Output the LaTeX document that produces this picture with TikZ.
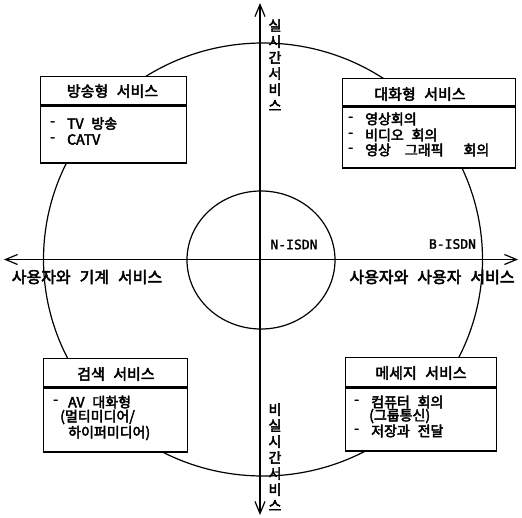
\documentclass[tikz,border=0pt]{standalone}
\usepackage{fontspec}
\usetikzlibrary{arrows.meta}
\newfontfamily\kr{Noto Sans CJK KR}[WordSpace=2.5, FakeBold=3]
\newfontfamily\monofnt{DejaVu Sans Mono}[FakeBold=2]
\tikzset{
  frame/.style={draw, fill=white, line width=1.3pt, inner sep=0pt, anchor=north west},
  hdr/.style={font=\kr\fontsize{15}{17}\selectfont, inner sep=0pt},
  bodytxt/.style={font=\kr\fontsize{14}{15}\selectfont, inner sep=0pt, anchor=west},
  axislbl/.style={font=\kr\fontsize{16}{17}\selectfont, inner sep=0pt},
  vlbl/.style={font=\kr\fontsize{14}{16}\selectfont, inner sep=0pt, align=center},
  isdn/.style={font=\monofnt\fontsize{13}{15}\selectfont, inner sep=0pt},
  axis/.style={line width=1.2pt, {Straight Barb[length=12pt,width=10pt]}-{Straight Barb[length=12pt,width=10pt]}},
  ring/.style={line width=1.2pt}
}
\begin{document}
\begin{tikzpicture}[x=1pt,y=-1pt]
\useasboundingbox (0,0) rectangle (522,517);
% circles
\draw[ring] (263,259.5) ellipse [x radius=219.5, y radius=216.5];
\draw[ring] (261,260) ellipse [x radius=74, y radius=69];
% axes
\coordinate (top) at (260,3);
\coordinate (bot) at (260,515);
\coordinate (lft) at (4,259.5);
\coordinate (rgt) at (518,259.5);
\draw[axis] (bot) -- (top);
\draw[axis] (lft) -- (rgt);
% axis labels
\node[vlbl] (rt) at (275,65) {실\\시\\간\\서\\비\\스};
\node[vlbl] (nrt) at (275,457) {비\\실\\시\\간\\서\\비\\스};
\node[axislbl] (um) at (87,277) {사용자와 기계 서비스};
\node[axislbl] (uu) at (432,277) {사용자와 사용자 서비스};
\node[isdn] (nisdn) at (294,244.5) {N-ISDN};
\node[isdn] (bisdn) at (452.5,244) {B-ISDN};
% box 1
\node[frame, minimum width=146pt, minimum height=28pt] (h1) at (40,76) {};
\node[frame, minimum width=146pt, minimum height=57pt] (f1) at (h1.south west) {};
\node[hdr] (t1) at (112.5,91) {방송형 서비스};
\node[bodytxt] (d11) at (50,123.5) {-};
\node[bodytxt] (l11) at (67,123.5) {TV 방송};
\node[bodytxt] (d12) at (50,139.5) {-};
\node[bodytxt] (l12) at (67,139.5) {CATV};
% box 2
\node[frame, minimum width=173pt, minimum height=27pt] (h2) at (342,78) {};
\node[frame, minimum width=173pt, minimum height=61pt] (f2) at (h2.south west) {};
\node[hdr] (t2) at (420,94) {대화형 서비스};
\node[bodytxt] (d21) at (348,119) {-};
\node[bodytxt] (l21) at (365,119) {영상회의};
\node[bodytxt] (d22) at (348,135) {-};
\node[bodytxt] (l22) at (365,135) {비디오 회의};
\node[bodytxt] (d23) at (348,150) {-};
\node[bodytxt] (l23) at (365,150) {영상\hspace{14pt}그래픽\hspace{20pt}회의};
% box 3
\node[frame, minimum width=144pt, minimum height=28pt] (h3) at (43,358) {};
\node[frame, minimum width=144pt, minimum height=64pt] (f3) at (h3.south west) {};
\node[hdr] (t3) at (116,374) {검색 서비스};
\node[bodytxt] (d31) at (53,402) {-};
\node[bodytxt] (l31) at (68,402) {AV 대화형};
\node[bodytxt] (l32) at (60,417) {(멀티미디어/};
\node[bodytxt] (l33) at (68,433) {하이퍼미디어)};
% box 4
\node[frame, minimum width=151pt, minimum height=29pt] (h4) at (345,357) {};
\node[frame, minimum width=151pt, minimum height=63pt] (f4) at (h4.south west) {};
\node[hdr] (t4) at (421,373) {메세지 서비스};
\node[bodytxt] (d41) at (354,402) {-};
\node[bodytxt] (l41) at (371,402) {컴퓨터 회의};
\node[bodytxt] (l42) at (369,416) {(그룹통신)};
\node[bodytxt] (d43) at (354,431) {-};
\node[bodytxt] (l43) at (371,431) {저장과 전달};
\end{tikzpicture}
\end{document}
